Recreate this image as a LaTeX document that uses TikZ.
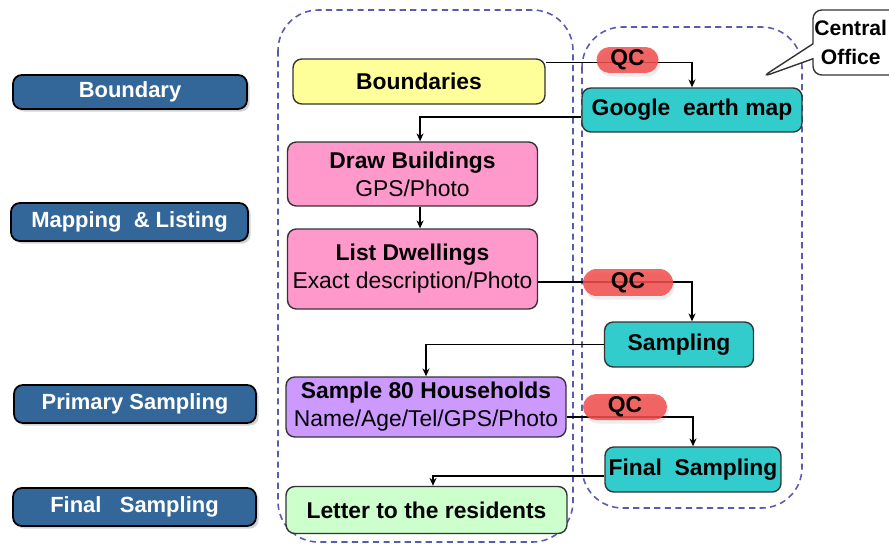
\documentclass[tikz,border=0pt]{standalone}
\usepackage{fontspec}
\setmainfont{Liberation Sans}
\usepackage{tikz}
\usetikzlibrary{
    arrows.meta,
    positioning,
    shapes.misc,
    shapes.callouts,
    shadows
}
\usepackage{xcolor}
\definecolor{stageblue}{HTML}{336699}
\definecolor{boundyellow}{HTML}{FFFF99}
\definecolor{mappink}{HTML}{FF99CC}
\definecolor{samplepurple}{HTML}{CC99FF}
\definecolor{lettergreen}{HTML}{CCFFCC}
\definecolor{officeteal}{HTML}{33CCCC}
\definecolor{qcred}{HTML}{F24D4D}
\definecolor{zoneblue}{HTML}{5A5AB0}

\begin{document}
\begin{tikzpicture}[
        x=0.02cm, y=-0.02cm,
        >={Stealth[length=4.5pt,width=4pt]},
        stage/.style={
            rectangle,
            rounded corners=5pt,
            draw=black,
            line width=1pt,
            fill=stageblue,
            text=white,
            font=\bfseries\fontsize{12.5}{15}\selectfont,
            inner sep=0pt,
            drop shadow={shadow xshift=1.5pt, shadow yshift=-1.5pt, opacity=0.35}
        },
        task/.style={
            rectangle,
            rounded corners=5pt,
            draw=black!80,
            line width=0.8pt,
            align=center,
            inner sep=0pt,
            font=\fontsize{13}{16}\selectfont
        },
        qc/.style={
            rounded rectangle,
            fill=qcred,
            fill opacity=0.85,
            text opacity=1,
            inner sep=0pt,
            font=\bfseries\fontsize{13}{15}\selectfont,
            drop shadow={shadow xshift=1pt, shadow yshift=-2pt, opacity=0.15}
        },
        zone/.style={
            draw=zoneblue,
            line width=0.9pt,
            dash pattern=on 3.5pt off 2.5pt,
            rounded corners=23pt
        },
        link/.style={
            ->,
            line width=0.7pt
        }
    ]
        \useasboundingbox (0,0) rectangle (889,544);

        \node[stage, minimum width=4.68cm, minimum height=0.68cm] (Boundary) at (130,92) {Boundary};
        \node[stage, minimum width=4.74cm, minimum height=0.76cm] (Mapping) at (129.5,222) {Mapping~~\&~Listing};
        \node[stage, minimum width=4.84cm, minimum height=0.76cm] (Primary) at (135,404) {Primary Sampling};
        \node[stage, minimum width=4.86cm, minimum height=0.76cm] (Final) at (134.5,507) {Final~~~Sampling};

        \draw[zone] (278,10) rectangle (573,542);
        \draw[zone] (582,27) rectangle (802,508);

        \node[task, fill=boundyellow, minimum width=5.04cm, minimum height=0.9cm] (Boundaries) at (419,81.5) {\bfseries Boundaries};
        \node[task, fill=mappink, minimum width=5cm, minimum height=1.28cm] (DrawBuildings) at (412.5,174) {\bfseries Draw Buildings\\GPS/Photo};
        \node[task, fill=mappink, minimum width=5cm, minimum height=1.6cm] (ListDwellings) at (412.5,269) {\bfseries List Dwellings\\Exact description/Photo};
        \node[task, fill=samplepurple, minimum width=5.6cm, minimum height=1.2cm] (Sample80) at (426,407) {\bfseries Sample 80 Households\\Name/Age/Tel/GPS/Photo};
        \node[task, fill=lettergreen, minimum width=5.62cm, minimum height=0.94cm] (Letter) at (426.5,510) {\bfseries Letter to the residents};

        \node[task, fill=officeteal, minimum width=4.4cm, minimum height=0.88cm] (GoogleMap) at (692,110) {\bfseries Google~~earth map};
        \node[task, fill=officeteal, minimum width=2.98cm, minimum height=0.9cm] (Sampling) at (679,344.5) {\bfseries Sampling};
        \node[task, fill=officeteal, minimum width=3.52cm, minimum height=0.9cm] (FinalSamp) at (693,469.5) {\bfseries Final~~Sampling};

        \node[rectangle callout, draw=black!80, line width=0.8pt, fill=white, rounded corners=5pt,
            minimum width=1.72cm, minimum height=1.3cm, inner sep=0pt, align=center,
            callout absolute pointer={(762,77)}, callout pointer width=8.5pt,
            font=\bfseries\fontsize{12}{16}\selectfont] (Office) at (856,42.5) {Central\hspace*{6pt}\\Office\hspace*{6pt}};

        \draw[link] ([yshift=-2.5pt]Boundaries.north east) -| (GoogleMap.north);
        \draw[link] ([yshift=-4pt]GoogleMap.west) -| ([xshift=4.3pt]DrawBuildings.north);
        \draw[link] ([xshift=4.3pt]DrawBuildings.south) -- ([xshift=4.3pt]ListDwellings.north);
        \draw[link] ([yshift=-7.4pt]ListDwellings.east) -| ([xshift=7.4pt]Sampling.north);
        \draw[link] (Sampling.west) -| (Sample80.north);
        \draw[link] ([yshift=-5.7pt]Sample80.east) -| (FinalSamp.north);
        \draw[link] ([yshift=-3.7pt]FinalSamp.west) -| ([xshift=3.7pt]Letter.north);

        \node[qc, minimum width=1.24cm, minimum height=0.52cm] (QCa) at (627.5,60) {QC};
        \node[qc, minimum width=1.8cm, minimum height=0.54cm] (QCb) at (628,282.5) {QC};
        \node[qc, minimum width=1.68cm, minimum height=0.52cm] (QCc) at (625,407) {QC};
    \end{tikzpicture}
\end{document}
